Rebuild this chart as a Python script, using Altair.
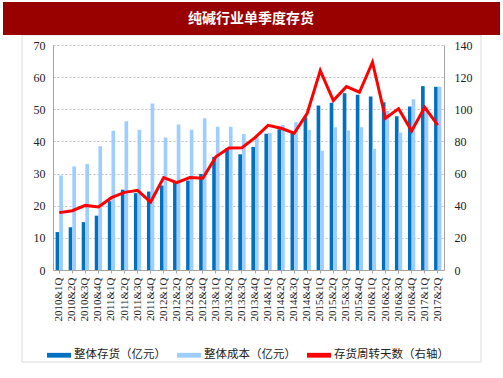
import altair as alt
import pandas as pd

TITLE = "纯碱行业单季度存货"
CATS = [f"{y}&{q}Q" for y in range(2010, 2018) for q in range(1, 5)][:30]
SERIES = ["整体存货（亿元）", "整体成本（亿元）", "存货周转天数（右轴）"]
COLORS = ["#0070C0", "#9DCEFF", "#FF0000"]

inventory = [11.8, 13.3, 14.9, 16.9, 21.4, 25.0, 23.9, 24.4, 26.3, 27.2,
             27.8, 29.9, 35.2, 37.9, 36.0, 38.3, 42.4, 43.8, 42.6, 47.5,
             51.2, 52.0, 55.0, 54.5, 54.0, 52.2, 47.8, 50.9, 57.2, 57.0]
cost = [29.4, 32.2, 33.0, 38.5, 43.3, 46.3, 43.6, 51.8, 41.2, 45.3,
        43.6, 47.2, 44.6, 44.6, 42.3, 41.2, 42.6, 45.1, 46.0, 43.6,
        37.1, 44.4, 43.4, 44.4, 37.7, 49.5, 42.8, 53.1, 50.8, 57.0]
days = [35.7, 36.9, 40.2, 39.2, 45.0, 48.3, 49.6, 42.3, 57.5, 54.4,
        57.5, 57.1, 70.5, 75.9, 76.1, 82.4, 90.0, 88.2, 85.1, 97.5,
        124.1, 105.4, 114.1, 110.6, 129.3, 94.4, 100.4, 86.5, 101.2, 90.2]

bars_df = pd.DataFrame({
    "cat": CATS * 2,
    "series": [SERIES[0]] * 30 + [SERIES[1]] * 30,
    "value": inventory + cost,
})
line_df = pd.DataFrame({"cat": CATS, "days": days})
one = pd.DataFrame({"a": [0]})

SERIF = "Liberation Serif"
CJK = "Noto Sans CJK SC"

xenc = alt.X("cat:N", scale=alt.Scale(domain=CATS, paddingInner=0.44, paddingOuter=0.2),
             axis=alt.Axis(title=None, labelAngle=270, labelFont=SERIF, labelFontSize=11,
                           labelColor="#222", domainColor="#A6A6A6", tickColor="#A6A6A6",
                           tickSize=3, labelPadding=4, grid=False))

panel = alt.Chart(one).mark_rect(fillOpacity=0, fill="white", stroke="#D9D9D9", strokeWidth=1).encode(
    x=alt.value(-31), x2=alt.value(428), y=alt.value(-10), y2=alt.value(317))

title_bar = alt.Chart(one).mark_rect(fill="#990000").encode(
    x=alt.value(-50), x2=alt.value(447), y=alt.value(-43), y2=alt.value(-10))

title_text = alt.Chart(one).mark_text(
    color="white", font=CJK, fontSize=14, fontWeight="bold", align="center", baseline="middle"
).encode(x=alt.value(198), y=alt.value(-26), text=alt.value(TITLE))

bars = alt.Chart(bars_df).mark_bar().encode(
    x=xenc,
    xOffset=alt.XOffset("series:N", scale=alt.Scale(domain=SERIES[:2], paddingInner=0)),
    y=alt.Y("value:Q", scale=alt.Scale(domain=[0, 70], nice=False),
            axis=alt.Axis(title=None, values=list(range(0, 71, 10)), grid=True,
                          gridDash=[2, 2], gridColor="#BFBFBF", ticks=False,
                          domainColor="#A6A6A6", labelFont=SERIF, labelFontSize=12,
                          labelColor="#222", labelPadding=8)),
    color=alt.Color("series:N", scale=alt.Scale(domain=SERIES, range=COLORS),
                    legend=alt.Legend(orient="none", legendX=-6, legendY=298,
                                      direction="horizontal", title=None,
                                      symbolType="M-1,-0.2H1V0.2H-1Z", symbolSize=576,
                                      symbolStrokeWidth=0, labelFont=CJK, labelFontSize=11.5,
                                      labelColor="#222", columnPadding=11, labelOffset=3,
                                      labelLimit=300)),
)

line = alt.Chart(line_df).mark_line(color="#FF0000", strokeWidth=3).encode(
    x=alt.X("cat:N", scale=alt.Scale(domain=CATS)),
    y=alt.Y("days:Q", scale=alt.Scale(domain=[0, 140], nice=False),
            axis=alt.Axis(title=None, orient="right", values=list(range(0, 141, 20)),
                          grid=False, ticks=False, domainColor="#A6A6A6",
                          labelFont=SERIF, labelFontSize=12, labelColor="#222",
                          labelPadding=10)),
)

plot = alt.layer(bars, line).resolve_scale(y="independent")

chart = alt.layer(panel, title_bar, title_text, plot).properties(
    width=391, height=225,
    autosize=alt.AutoSizeParams(type="none"),
    padding={"left": 53, "top": 45, "right": 59, "bottom": 108},
    background="white",
).configure_view(stroke=None)

chart.save("out.html", embed_options={"renderer": "svg", "actions": False})
